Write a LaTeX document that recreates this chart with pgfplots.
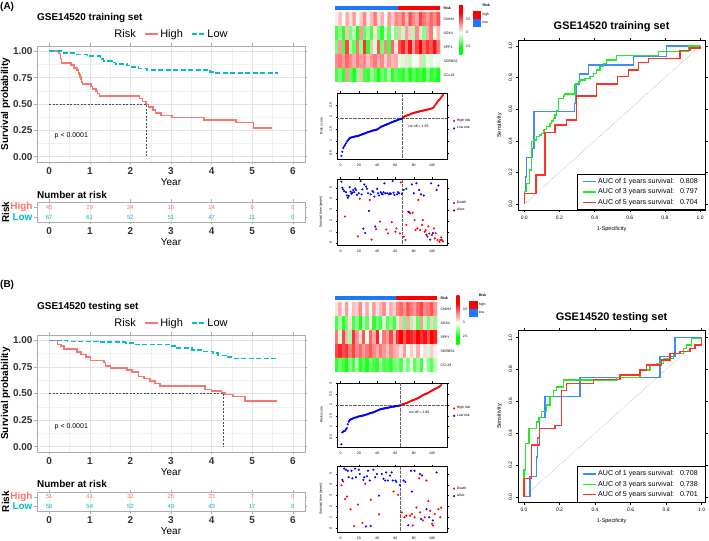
\documentclass[border=0pt]{standalone}
\usepackage{fontspec}
\setmainfont{Liberation Sans}
\usepackage{pgfplots}
\pgfplotsset{compat=1.18}
\definecolor{kmred}{RGB}{248,118,109}
\definecolor{kmcyan}{RGB}{0,191,196}
\definecolor{hmred}{RGB}{255,0,0}
\definecolor{hmblue}{RGB}{30,120,255}
\definecolor{ptred}{RGB}{255,0,0}
\definecolor{ptblue}{RGB}{0,0,255}
\definecolor{rocblue}{RGB}{60,140,255}
\definecolor{rocgreen}{RGB}{40,230,40}
\definecolor{rocred}{RGB}{255,50,40}
\newcommand\fs[1]{\fontsize{#1}{#1}\selectfont}
\pgfplotsset{
  /pgf/number format/assume math mode=true,
  enlargelimits=false,
  colormap={hm}{rgb255(0cm)=(0,255,0) rgb255(1.53cm)=(0,255,0) rgb255(4.44cm)=(255,255,255) rgb255(8.41cm)=(255,0,0) rgb255(10cm)=(255,0,0)},
  kmax/.style={scale only axis, anchor=south west, width=268bp, xmin=-0.3, xmax=6.3,
    xtick={0,1,2,3,4,5,6},
    axis line style={draw=gray!65, line width=0.6bp}, tick style={draw=gray!65, line width=0.5bp},
    tick align=outside, major tick length=2.5bp, minor tick length=0pt,
    tick label style={font=\fs{10}\bfseries, text=black!80},
    yticklabel style={xshift=1.5bp},
    xlabel={Year}, xlabel style={font=\fs{10}, yshift=3bp},
    ylabel style={font=\fs{10}\bfseries, at={(axis description cs:-0.117,0.5)}, anchor=center}},
  kmlegend/.style={legend style={at={(0.5,1)}, anchor=south, yshift=3bp, draw=none, fill=none,
    legend columns=-1, font=\fs{11}, /tikz/every even column/.append style={column sep=6bp}},
    legend image code/.code={\draw[##1] (0bp,0bp) -- (13bp,0bp);}},
  midax/.style={scale only axis, anchor=south west, width=110bp, xmin=-3.8, xmax=116.4,
    xtick={0,20,40,60,80,100},
    axis line style={black, line width=0.3bp}, tick style={black, line width=0.3bp},
    tick align=outside, major tick length=1.5bp,
    tick label style={font=\fs{3.5}}, yticklabel style={rotate=90, anchor=south},
    label style={font=\fs{3.5}},
    legend style={draw=none, fill=none, font=\fs{3.5}, legend cell align=left, row sep=-0.5bp, inner sep=0.5bp}},
  hmax/.style={scale only axis, anchor=south west, height=76bp, xmin=-0.5, xmax=29.5,
    ymin=-0.93, ymax=4.5, y dir=reverse, axis line style={draw=none}, major tick length=0pt,
    xtick=\empty, ytick={-0.785,0,1,2,3,4},
    yticklabels={\bfseries Risk,CNIH4,SOX4,SPP1,SORBS2,CCL19}, yticklabel pos=right,
    tick label style={font=\fs{3.5}}, point meta min=2.16, point meta max=4.05, colormap name=hm,
    colorbar, colorbar style={at={(parent axis.north east)}, anchor=north west, xshift=10.8bp, yshift=1bp,
      scale only axis, width=3bp, height=50bp, ytick={2.5,3,3.5}, yticklabels={2.5,3,3.5},
      tick label style={font=\fs{3.5}}, axis line style={draw=none}, major tick length=0pt,
      yticklabel pos=right},
    legend style={anchor=north west, draw=none, fill=none,
      font=\fs{3.5}, legend cell align=left, row sep=0.2bp, inner sep=0pt}},
  rocax/.style={scale only axis, anchor=south west, width=186.7bp,
    axis line style={black, line width=0.5bp}, tick style={black, line width=0.4bp},
    tick align=outside, major tick length=2.5bp,
    xtick={0,0.2,0.4,0.6,0.8,1}, ytick={0,0.2,0.4,0.6,0.8,1},
    xticklabels={0.0,0.2,0.4,0.6,0.8,1.0}, yticklabels={0.0,0.2,0.4,0.6,0.8,1.0},
    tick label style={font=\fs{5}},
    yticklabel style={rotate=90, anchor=south},
    xlabel={1-Specificity}, ylabel={Sensitivity}, label style={font=\fs{5.5}},
    legend style={at={(1,0)}, anchor=south east, draw=black, line width=0.5bp, font=\fs{7.1},
      legend cell align=left, row sep=-0.2bp, inner xsep=5bp, inner ysep=2bp},
    legend image code/.code={\draw[##1] (0bp,0bp) -- (13bp,0bp);}},
  rocline/.style={const plot, mark=none, draw=#1, color=#1, line width=1.3bp},
}
\begin{document}
\begin{tikzpicture}
\useasboundingbox (0,0) rectangle (709bp,541bp);
\fill[white] (0,0) rectangle (709bp,541bp);

% ---------------- titles / labels ----------------
\node[anchor=west, inner sep=0, font=\fs{10}\bfseries] at (0bp,534bp) {(A)};
\node[anchor=west, inner sep=0, font=\fs{10}\bfseries] at (0bp,256bp) {(B)};
\node[anchor=west, inner sep=0, font=\fs{10}\bfseries] at (37bp,523bp) {GSE14520 training set};
\node[anchor=west, inner sep=0, font=\fs{10}\bfseries] at (37bp,234bp) {GSE14520 testing set};
\node[anchor=west, inner sep=0, font=\fs{10}\bfseries] at (37bp,346bp) {Number at risk};
\node[anchor=west, inner sep=0, font=\fs{10}\bfseries] at (37bp,57bp) {Number at risk};
\node[inner sep=0, font=\fs{11}\bfseries] at (611.6bp,514bp) {GSE14520 training set};
\node[inner sep=0, font=\fs{11}\bfseries] at (611.6bp,223bp) {GSE14520 testing set};

% ================= ROC training =================
\begin{axis}[rocax, at={(518.3bp,331bp)}, height=169.3bp, xmin=-0.034, xmax=1.028, ymin=-0.038, ymax=1.034]
\addplot[forget plot, densely dotted, draw=gray, line width=0.4bp] coordinates {(0,0) (1,1)};
\addplot[rocline=rocblue] table {
x y
0 0
0 0.078
0.008 0.17
0.013 0.295
0.046 0.35
0.055 0.584
0.285 0.637
0.294 0.76
0.313 0.823
0.364 0.88
0.62 0.932
0.81 1.0
1 1
};
\addlegendentry{AUC of 1 years survival:\hspace{6bp}0.808}
\addplot[rocline=rocgreen] table {
x y
0 0
0 0.078
0.013 0.13
0.028 0.215
0.042 0.395
0.056 0.405
0.070 0.426
0.085 0.437
0.099 0.447
0.113 0.47
0.127 0.49
0.146 0.51
0.155 0.525
0.165 0.54
0.175 0.563
0.185 0.59
0.194 0.669
0.222 0.684
0.228 0.696
0.288 0.753
0.298 0.764
0.307 0.774
0.317 0.785
0.346 0.795
0.374 0.806
0.393 0.827
0.41 0.848
0.43 0.87
0.45 0.89
0.469 0.911
0.526 0.939
0.763 0.964
0.933 1.0
1 1
};
\addlegendentry{AUC of 3 years survival:\hspace{6bp}0.797}
\addplot[rocline=rocred] table {
x y
0 0
0 0.068
0.066 0.184
0.118 0.454
0.175 0.5
0.241 0.532
0.298 0.684
0.412 0.76
0.53 0.806
0.592 0.848
0.649 0.895
0.706 0.922
0.886 0.97
0.943 0.987
1 1
};
\addlegendentry{AUC of 5 years survival:\hspace{6bp}0.704}
\end{axis}

% ================= ROC testing =================
\begin{axis}[rocax, at={(518.3bp,38.7bp)}, height=171.6bp, xmin=-0.032, xmax=1.019, ymin=-0.035, ymax=1.044]
\addplot[forget plot, densely dotted, draw=gray, line width=0.4bp] coordinates {(0,0) (1,1)};
\addplot[rocline=rocblue] table {
x y
0 0
0.034 0.126
0.071 0.25
0.078 0.37
0.086 0.5
0.118 0.63
0.315 0.75
0.765 0.88
0.85 1.0
1 1
};
\addlegendentry{AUC of 1 years survival:\hspace{6bp}0.708}
\addplot[rocline=rocgreen] table {
x y
0 0
0 0.168
0.009 0.335
0.028 0.43
0.071 0.47
0.085 0.5
0.1 0.535
0.128 0.577
0.146 0.63
0.165 0.67
0.184 0.69
0.221 0.734
0.522 0.75
0.653 0.797
0.709 0.828
0.747 0.839
0.784 0.87
0.84 0.9
0.897 0.933
0.916 0.954
0.944 0.996
1 1
};
\addlegendentry{AUC of 3 years survival:\hspace{6bp}0.738}
\addplot[rocline=rocred] table {
x y
0 0
0 0.115
0.043 0.325
0.086 0.43
0.174 0.45
0.212 0.67
0.24 0.713
0.39 0.738
0.54 0.765
0.653 0.797
0.69 0.828
0.775 0.86
0.822 0.9
0.878 0.912
0.934 0.933
0.962 0.954
1 1
};
\addlegendentry{AUC of 5 years survival:\hspace{6bp}0.701}
\end{axis}

% ================= KM training =================
\begin{axis}[kmax, kmlegend, at={(37bp,379bp)}, height=116bp, ymin=-0.05, ymax=1.05,
  ytick={0,0.25,0.5,0.75,1}, yticklabels={0.00,0.25,0.50,0.75,1.00},
  minor x tick num=1, minor y tick num=1, grid=both,
  major grid style={gray!22, line width=0.5bp}, minor grid style={gray!12, line width=0.35bp},
  ylabel={Survival probability}]
\addlegendimage{empty legend}\addlegendentry{Risk}
\addplot[const plot, kmred, line width=1.6bp] table {
t S
0 1.000
0.24 0.978
0.28 0.933
0.30 0.889
0.53 0.867
0.61 0.844
0.68 0.822
0.72 0.800
0.74 0.778
0.76 0.756
0.78 0.733
0.80 0.711
0.82 0.689
1.03 0.667
1.07 0.644
1.15 0.622
1.19 0.600
1.24 0.578
2.22 0.551
2.30 0.524
2.38 0.497
2.45 0.470
2.55 0.444
2.62 0.417
2.75 0.390
3.02 0.373
3.82 0.350
4.60 0.325
5.03 0.270
5.48 0.270
};
\addlegendentry{High}
\addplot[const plot, kmcyan, line width=1.6bp, dash pattern=on 5bp off 2.5bp] table {
t S
0 1.000
0.36 0.985
0.65 0.970
0.94 0.955
1.26 0.925
1.34 0.910
1.55 0.895
1.63 0.880
1.92 0.865
2.00 0.850
2.20 0.838
2.41 0.825
3.96 0.805
4.10 0.795
5.63 0.795
};
\addlegendentry{Low}
\addplot[forget plot, black!70, line width=0.6bp, dash pattern=on 2bp off 1.5bp] coordinates {(0,0.5) (2.38,0.5) (2.38,0)};
\node[anchor=west, font=\fs{7}] at (axis cs:0.05,0.2) {p < 0.0001};
\end{axis}

% risk table training
\begin{axis}[kmax, at={(37bp,319bp)}, height=20bp, ymin=0.5, ymax=2.5, ytick={1,2},
  yticklabels={\textcolor{kmcyan}{Low},\textcolor{kmred}{High}},
  yticklabel style={font=\fs{10}\bfseries}, xmajorgrids, grid style={gray!20, line width=0.4bp},
  ylabel={Risk}]
\addplot[draw=none, mark=none, nodes near coords, point meta=explicit symbolic,
  every node near coord/.append style={anchor=center, font=\fs{6}, text=kmred}] table[meta=n] {
x y n
0 2 45
1 2 29
2 2 24
3 2 16
4 2 14
5 2 6
6 2 0
};
\addplot[draw=none, mark=none, nodes near coords, point meta=explicit symbolic,
  every node near coord/.append style={anchor=center, font=\fs{6}, text=kmcyan}] table[meta=n] {
x y n
0 1 67
1 1 61
2 1 52
3 1 51
4 1 47
5 1 11
6 1 0
};
\end{axis}

% ================= KM testing =================
\begin{axis}[kmax, kmlegend, at={(37bp,89bp)}, height=117bp, ymin=-0.05, ymax=1.05,
  ytick={0,0.25,0.5,0.75,1}, yticklabels={0.00,0.25,0.50,0.75,1.00},
  minor x tick num=1, minor y tick num=1, grid=both,
  major grid style={gray!22, line width=0.5bp}, minor grid style={gray!12, line width=0.35bp},
  ylabel={Survival probability}]
\addlegendimage{empty legend}\addlegendentry{Risk}
\addplot[const plot, kmred, line width=1.6bp] table {
t S
0 1.000
0.20 0.960
0.29 0.944
0.37 0.920
0.69 0.888
0.78 0.866
0.90 0.844
1.02 0.812
1.35 0.790
1.39 0.756
1.51 0.740
1.92 0.720
2.04 0.700
2.20 0.660
2.33 0.640
2.49 0.616
2.61 0.594
2.73 0.569
3.84 0.538
4.00 0.522
4.24 0.506
4.33 0.490
4.53 0.470
4.82 0.430
5.60 0.430
};
\addlegendentry{High}
\addplot[const plot, kmcyan, line width=1.6bp, dash pattern=on 5bp off 2.5bp] table {
t S
0 1.000
0.45 0.990
1.20 0.983
1.88 0.973
2.08 0.960
2.98 0.945
3.14 0.925
3.51 0.910
3.80 0.895
4.04 0.880
4.16 0.858
4.37 0.842
4.49 0.830
5.60 0.830
};
\addlegendentry{Low}
\addplot[forget plot, black!70, line width=0.6bp, dash pattern=on 2bp off 1.5bp] coordinates {(0,0.5) (4.30,0.5) (4.30,0)};
\node[anchor=west, font=\fs{7}] at (axis cs:0.05,0.19) {p < 0.0001};
\end{axis}

% risk table testing
\begin{axis}[kmax, at={(37bp,30bp)}, height=19bp, ymin=0.5, ymax=2.5, ytick={1,2},
  yticklabels={\textcolor{kmcyan}{Low},\textcolor{kmred}{High}},
  yticklabel style={font=\fs{10}\bfseries}, xmajorgrids, grid style={gray!20, line width=0.4bp},
  ylabel={Risk}]
\addplot[draw=none, mark=none, nodes near coords, point meta=explicit symbolic,
  every node near coord/.append style={anchor=center, font=\fs{6}, text=kmred}] table[meta=n] {
x y n
0 2 51
1 2 41
2 2 32
3 2 25
4 2 23
5 2 7
6 2 0
};
\addplot[draw=none, mark=none, nodes near coords, point meta=explicit symbolic,
  every node near coord/.append style={anchor=center, font=\fs{6}, text=kmcyan}] table[meta=n] {
x y n
0 1 58
1 1 54
2 1 52
3 1 49
4 1 43
5 1 17
6 1 0
};
\end{axis}

% ================= Heatmap training =================
\begin{axis}[hmax, at={(335bp,459bp)}, width=105bp, legend style={at={(axis description cs:1.311,1.05)}}]
\addplot[matrix plot*, forget plot, mesh/cols=30, mesh/rows=5, point meta=explicit]
 table[row sep=\\, meta=c, x expr={\coordindex-30*floor(\coordindex/30)}, y expr={floor(\coordindex/30)}] {
c\\
3.05\\ 3.20\\ 3.00\\ 3.25\\ 3.10\\ 3.30\\ 2.95\\ 3.15\\ 3.35\\ 3.05\\ 3.20\\ 3.40\\ 3.10\\ 3.25\\ 3.00\\ 3.30\\ 3.15\\ 3.35\\
3.30\\ 3.45\\ 3.20\\ 3.50\\ 3.35\\ 3.25\\ 3.55\\ 3.40\\ 3.30\\ 3.45\\ 3.35\\ 3.50\\
2.60\\ 2.75\\ 2.55\\ 3.20\\ 2.70\\ 2.85\\ 2.50\\ 3.30\\ 2.65\\ 2.80\\ 2.60\\ 3.10\\ 2.70\\ 2.55\\ 2.90\\ 2.65\\ 3.05\\ 2.75\\
3.20\\ 2.85\\ 3.30\\ 3.15\\ 2.80\\ 3.35\\ 3.10\\ 2.75\\ 3.25\\ 3.40\\ 2.95\\ 3.20\\
2.70\\ 3.30\\ 2.60\\ 3.55\\ 2.80\\ 2.65\\ 3.40\\ 2.75\\ 3.60\\ 2.55\\ 3.20\\ 2.90\\ 3.50\\ 2.70\\ 3.35\\ 2.60\\ 3.45\\ 3.10\\
3.50\\ 3.65\\ 3.40\\ 3.70\\ 3.30\\ 3.55\\ 3.75\\ 3.45\\ 3.60\\ 3.50\\ 3.70\\ 3.40\\
3.35\\ 3.40\\ 3.30\\ 3.45\\ 3.35\\ 3.25\\ 3.40\\ 3.30\\ 3.35\\ 3.20\\ 3.30\\ 3.40\\ 3.25\\ 3.35\\ 3.15\\ 3.30\\ 3.20\\ 3.25\\
3.05\\ 2.90\\ 3.10\\ 2.85\\ 3.00\\ 2.95\\ 3.15\\ 2.80\\ 3.05\\ 2.90\\ 3.00\\ 2.95\\
2.60\\ 2.70\\ 2.55\\ 3.30\\ 2.65\\ 2.50\\ 2.75\\ 3.20\\ 2.60\\ 2.55\\ 2.80\\ 2.65\\ 2.50\\ 2.70\\ 2.60\\ 2.85\\ 2.55\\ 2.65\\
2.60\\ 2.55\\ 2.70\\ 2.50\\ 2.65\\ 2.55\\ 2.60\\ 2.50\\ 2.75\\ 2.55\\ 2.60\\ 2.50\\
};
\addplot[fill=hmblue, draw=none, forget plot] coordinates {(-0.5,-0.93) (17.5,-0.93) (17.5,-0.64) (-0.5,-0.64)} -- cycle;
\addplot[fill=hmred, draw=none, forget plot] coordinates {(17.5,-0.93) (29.5,-0.93) (29.5,-0.64) (17.5,-0.64)} -- cycle;
\addlegendimage{empty legend}\addlegendentry{\bfseries Risk}
\addlegendimage{legend image code/.code={\fill[hmred] (0bp,-3.7bp) rectangle (7.3bp,3.7bp);}}\addlegendentry{high}
\addlegendimage{legend image code/.code={\fill[hmblue] (0bp,-3.7bp) rectangle (7.3bp,3.7bp);}}\addlegendentry{low}
\end{axis}

% ================= Risk score training =================
\begin{axis}[midax, at={(337bp,382bp)}, height=66bp, ymin=0.25, ymax=3.0,
  ytick={0.5,1,1.5,2,2.5}, ylabel={Risk score}, legend style={at={(1.05,0.52)}, anchor=west}]
\addplot[only marks, mark=*, mark size=0.85bp, ptred] table {
s v
68 1.97
69 2.00
70 2.02
71 2.04
72 2.05
73 2.07
74 2.08
75 2.10
76 2.11
77 2.13
78 2.14
79 2.16
80 2.17
81 2.18
82 2.19
83 2.20
84 2.21
85 2.22
86 2.23
87 2.24
88 2.25
89 2.26
90 2.26
91 2.27
92 2.28
93 2.29
94 2.30
95 2.31
96 2.32
97 2.33
98 2.34
99 2.35
100 2.36
101 2.38
102 2.41
103 2.47
104 2.53
105 2.58
106 2.63
107 2.68
108 2.72
109 2.76
110 2.82
111 2.87
112 2.92
};
\addlegendentry{High risk}
\addplot[only marks, mark=*, mark size=0.85bp, ptblue] table {
s v
1 0.38
2 0.55
3 0.71
4 0.78
5 0.83
6 0.90
7 0.97
8 1.02
9 1.07
10 1.12
11 1.14
12 1.15
13 1.16
14 1.17
15 1.18
16 1.19
17 1.20
18 1.20
19 1.21
20 1.22
21 1.24
22 1.25
23 1.27
24 1.28
25 1.29
26 1.31
27 1.32
28 1.34
29 1.35
30 1.37
31 1.38
32 1.39
33 1.41
34 1.42
35 1.43
36 1.44
37 1.45
38 1.46
39 1.47
40 1.48
41 1.50
42 1.53
43 1.56
44 1.58
45 1.60
46 1.62
47 1.63
48 1.65
49 1.67
50 1.68
51 1.70
52 1.71
53 1.73
54 1.75
55 1.76
56 1.78
57 1.79
58 1.81
59 1.82
60 1.84
61 1.85
62 1.87
63 1.88
64 1.90
65 1.91
66 1.92
67 1.93
};
\addlegendentry{Low risk}
\addplot[forget plot, densely dotted, black!60, line width=0.3bp] coordinates {(67.5,0.25) (67.5,3.0)};
\addplot[forget plot, densely dotted, black!60, line width=0.3bp] coordinates {(-3.8,1.95) (116.4,1.95)};
\node[anchor=west, font=\fs{3.5}] at (axis cs:70,1.6) {cut-off = 1.93};
\end{axis}

% ================= Survival scatter training =================
\begin{axis}[midax, at={(337bp,296bp)}, height=66bp, ymin=-0.18, ymax=5.79,
  ytick={0,1,2,3,4,5}, ylabel={Survival time (years)}, legend style={at={(1.05,0.58)}, anchor=west}]
\addplot[only marks, mark=*, mark size=0.85bp, ptred] table {
s y
5 2.40
19 0.60
21 4.00
32 3.90
34 0.30
39 1.25
43 1.93
52 0.87
50 1.23
56 1.87
61 1.32
65 0.87
60 1.02
66 5.48
69 0.57
71 0.27
72 1.63
74 2.83
76 2.68
79 2.74
81 2.07
82 1.17
84 1.32
85 3.90
87 1.17
89 1.63
90 2.07
92 1.02
93 1.17
95 0.57
96 1.50
97 0.87
100 0.72
102 1.32
103 0.42
104 0.90
106 0.27
108 0.12
109 0.27
110 0.50
111 0.27
112 0.15
};
\addlegendentry{Death}
\addplot[only marks, mark=*, mark size=0.85bp, ptblue] table {
s y
1 5.55
2 5.00
3 4.85
4 4.70
6 4.60
7 4.30
8 4.10
9 4.25
10 5.05
11 4.65
12 4.45
13 4.55
14 4.80
15 4.60
16 4.95
17 4.80
18 4.35
20 4.50
22 5.60
23 4.40
24 4.85
25 1.30
26 5.30
27 0.90
28 5.10
29 4.90
30 4.50
31 2.90
33 4.40
35 4.70
36 4.60
37 4.20
38 1.50
40 4.90
41 4.50
42 4.30
44 4.60
45 4.45
46 4.40
47 4.60
48 5.40
49 4.50
51 4.50
53 4.40
54 4.50
55 4.45
57 5.60
58 4.55
59 4.35
62 4.40
63 4.60
64 4.50
67 4.45
69 4.80
72 4.90
75 2.80
78 5.30
80 4.50
83 5.40
86 4.80
88 4.40
91 4.30
94 0.75
98 0.30
99 5.40
101 0.90
105 4.80
107 5.20
};
\addlegendentry{Alive}
\addplot[forget plot, densely dotted, black!60, line width=0.3bp] coordinates {(67.5,-0.18) (67.5,5.79)};
\end{axis}

% ================= Heatmap testing =================
\begin{axis}[hmax, at={(335bp,169bp)}, width=102bp, legend style={at={(axis description cs:1.314,1.05)}}]
\addplot[matrix plot*, forget plot, mesh/cols=30, mesh/rows=5, point meta=explicit]
 table[row sep=\\, meta=c, x expr={\coordindex-30*floor(\coordindex/30)}, y expr={floor(\coordindex/30)}] {
c\\
3.10\\ 3.25\\ 3.05\\ 3.30\\ 3.00\\ 3.20\\ 3.15\\ 3.35\\ 3.05\\ 3.25\\ 2.95\\ 3.30\\ 3.10\\ 3.20\\ 3.35\\ 3.05\\ 3.25\\ 3.15\\
3.35\\ 3.45\\ 3.30\\ 3.50\\ 3.40\\ 3.30\\ 3.45\\ 3.55\\ 3.35\\ 3.40\\ 3.50\\ 3.30\\
2.60\\ 2.80\\ 2.55\\ 2.70\\ 3.10\\ 2.60\\ 2.75\\ 2.50\\ 2.85\\ 2.65\\ 3.05\\ 2.55\\ 2.70\\ 2.60\\ 2.90\\ 2.65\\ 2.75\\ 2.60\\
2.90\\ 3.20\\ 2.70\\ 3.25\\ 2.80\\ 3.10\\ 2.65\\ 3.30\\ 2.85\\ 2.70\\ 3.15\\ 2.75\\
3.40\\ 2.90\\ 3.55\\ 3.20\\ 2.80\\ 3.60\\ 3.30\\ 3.10\\ 3.50\\ 2.95\\ 3.45\\ 3.25\\ 3.65\\ 3.00\\ 3.40\\ 3.30\\ 3.55\\ 3.20\\
3.60\\ 3.75\\ 3.50\\ 3.70\\ 3.65\\ 3.55\\ 3.75\\ 3.60\\ 3.70\\ 3.50\\ 3.75\\ 3.65\\
3.55\\ 3.65\\ 3.50\\ 3.60\\ 3.40\\ 3.55\\ 3.35\\ 3.45\\ 3.30\\ 3.40\\ 3.50\\ 3.35\\ 3.25\\ 3.40\\ 3.30\\ 3.20\\ 3.35\\ 3.25\\
3.20\\ 3.10\\ 3.30\\ 2.95\\ 3.15\\ 3.05\\ 3.25\\ 3.00\\ 3.10\\ 2.90\\ 3.15\\ 3.05\\
2.55\\ 2.70\\ 2.60\\ 2.50\\ 2.75\\ 2.60\\ 2.85\\ 2.55\\ 2.65\\ 2.50\\ 2.70\\ 2.60\\ 2.55\\ 2.80\\ 2.60\\ 2.65\\ 2.55\\ 2.70\\
2.75\\ 2.60\\ 2.90\\ 2.70\\ 2.95\\ 2.65\\ 2.80\\ 2.60\\ 3.00\\ 2.75\\ 2.65\\ 2.85\\
};
\addplot[fill=hmblue, draw=none, forget plot] coordinates {(-0.5,-0.93) (17.5,-0.93) (17.5,-0.64) (-0.5,-0.64)} -- cycle;
\addplot[fill=hmred, draw=none, forget plot] coordinates {(17.5,-0.93) (29.5,-0.93) (29.5,-0.64) (17.5,-0.64)} -- cycle;
\addlegendimage{empty legend}\addlegendentry{\bfseries Risk}
\addlegendimage{legend image code/.code={\fill[hmred] (0bp,-3.7bp) rectangle (7.3bp,3.7bp);}}\addlegendentry{high}
\addlegendimage{legend image code/.code={\fill[hmblue] (0bp,-3.7bp) rectangle (7.3bp,3.7bp);}}\addlegendentry{low}
\end{axis}

% ================= Risk score testing =================
\begin{axis}[midax, at={(337bp,94.3bp)}, height=64bp, ymin=0.05, ymax=3.04,
  ytick={0.5,1,1.5,2,2.5,3}, ylabel={Risk score}, legend style={at={(1.05,0.54)}, anchor=west}]
\addplot[only marks, mark=*, mark size=0.85bp, ptred] table {
s v
66 2.00
67 2.02
68 2.03
69 2.05
70 2.06
71 2.08
72 2.09
73 2.11
74 2.12
75 2.14
76 2.16
77 2.18
78 2.20
79 2.22
80 2.23
81 2.25
82 2.27
83 2.29
84 2.31
85 2.33
86 2.35
87 2.38
88 2.40
89 2.43
90 2.46
91 2.48
92 2.50
93 2.51
94 2.53
95 2.55
96 2.57
97 2.59
98 2.62
99 2.65
100 2.68
101 2.70
102 2.72
103 2.74
104 2.76
105 2.78
106 2.80
107 2.83
108 2.86
109 2.89
110 2.93
};
\addlegendentry{High risk}
\addplot[only marks, mark=*, mark size=0.85bp, ptblue] table {
s v
1 0.16
2 0.72
3 0.76
4 0.78
5 0.80
6 0.86
7 0.92
8 1.10
9 1.22
10 1.28
11 1.32
12 1.34
13 1.36
14 1.38
15 1.40
16 1.41
17 1.42
18 1.43
19 1.45
20 1.46
21 1.47
22 1.48
23 1.49
24 1.50
25 1.51
26 1.52
27 1.54
28 1.55
29 1.56
30 1.58
31 1.59
32 1.61
33 1.62
34 1.63
35 1.65
36 1.66
37 1.68
38 1.69
39 1.71
40 1.73
41 1.75
42 1.77
43 1.79
44 1.80
45 1.81
46 1.82
47 1.83
48 1.84
49 1.85
50 1.86
51 1.87
52 1.87
53 1.88
54 1.89
55 1.90
56 1.91
57 1.92
58 1.92
59 1.93
60 1.94
61 1.95
62 1.95
63 1.96
64 1.97
65 1.98
};
\addlegendentry{Low risk}
\addplot[forget plot, densely dotted, black!60, line width=0.3bp] coordinates {(65.5,0.05) (65.5,3.04)};
\addplot[forget plot, densely dotted, black!60, line width=0.3bp] coordinates {(-3.8,1.97) (116.4,1.97)};
\node[anchor=west, font=\fs{3.5}] at (axis cs:71,1.64) {cut-off = 1.86};
\end{axis}

% ================= Survival scatter testing =================
\begin{axis}[midax, at={(337bp,9bp)}, height=66bp, ymin=-0.36, ymax=5.74,
  ytick={0,1,2,3,4,5}, ylabel={Survival time (years)}, legend style={at={(1.05,0.6)}, anchor=west}]
\addplot[only marks, mark=*, mark size=0.85bp, ptred] table {
s y
1 3.96
3 4.30
5 2.68
7 2.92
11 1.73
19 2.18
15 0.18
24 0.48
27 4.10
33 2.62
42 1.28
58 3.38
63 3.08
67 1.45
70 1.00
72 1.15
76 1.15
78 1.30
79 0.24
81 1.00
83 1.90
86 4.60
87 1.45
90 0.71
92 1.00
94 4.40
96 2.49
98 1.60
100 0.40
101 0.24
103 1.30
107 1.75
109 1.00
110 1.90
};
\addlegendentry{Death}
\addplot[only marks, mark=*, mark size=0.85bp, ptblue] table {
s y
2 4.46
4 5.50
6 5.40
8 5.30
9 4.70
12 5.30
13 4.60
16 5.50
17 4.70
20 5.40
21 5.00
25 4.46
26 4.70
28 0.15
29 4.80
30 5.30
32 4.40
33 0.20
36 5.40
38 4.70
40 5.00
42 3.00
45 5.00
47 4.56
49 4.40
50 5.15
52 4.40
54 4.86
56 5.15
57 4.40
60 4.40
61 4.27
65 3.97
69 4.40
71 4.27
74 0.27
77 5.30
78 3.38
81 5.30
87 5.00
88 0.85
89 4.86
94 1.75
97 1.00
101 0.71
105 5.15
};
\addlegendentry{Alive}
\addplot[forget plot, densely dotted, black!60, line width=0.3bp] coordinates {(65.5,-0.36) (65.5,5.74)};
\end{axis}
\end{tikzpicture}
\end{document}
